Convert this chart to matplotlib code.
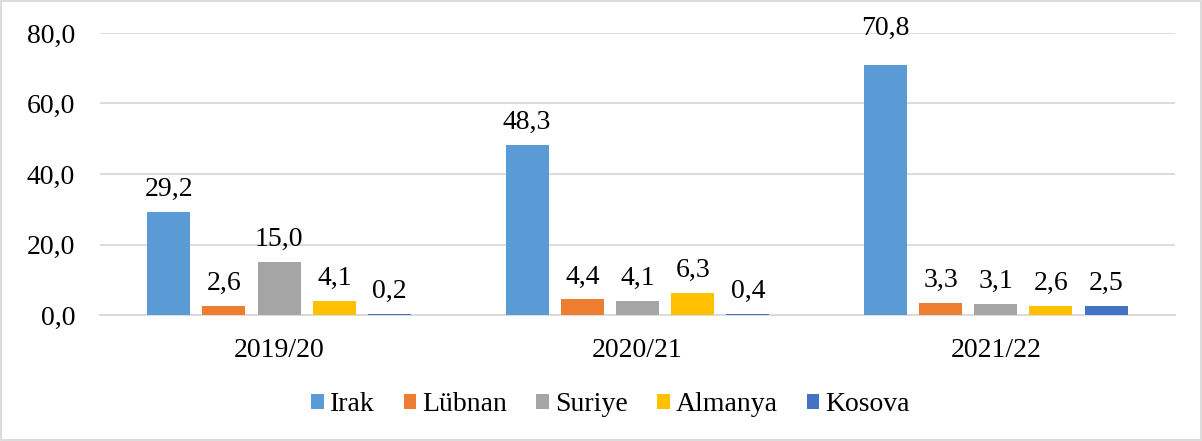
import numpy as np
import matplotlib
matplotlib.use("Agg")
import matplotlib.pyplot as plt
from matplotlib.patches import Rectangle

plt.rcParams['font.family'] = ['Liberation Serif', 'DejaVu Serif']

# data
years = ["2019/20", "2020/21", "2021/22"]
series = ["Irak", "Lübnan", "Suriye", "Almanya", "Kosova"]
irak = [29.2, 48.3, 70.8]
lubnan = [2.6, 4.4, 3.3]
suriye = [15.0, 4.1, 3.1]
almanya = [4.1, 6.3, 2.6]
kosova = [0.2, 0.4, 2.5]
colors = ["#5B9BD5", "#ED7D31", "#A5A5A5", "#FFC000", "#4472C4"]

values = [irak, lubnan, suriye, almanya, kosova]
fs = 20
top = max(max(v) for v in values)

fig = plt.figure(figsize=(12.02, 4.41), dpi=100)
ax = fig.add_axes([0.0832, 0.2857, 0.8943, 0.6395])

x = np.arange(len(years))
step = 0.154
width = 0.12
for i, (name, vals, c) in enumerate(zip(series, values, colors)):
    pos = x + (i - 2) * step
    ax.bar(pos, vals, width, color=c, label=name, zorder=3)
    for p, v in zip(pos, vals):
        off = 22 if v == top else 11.5  # excel pushes the tallest label up
        ax.annotate(f"{v:.1f}".replace(".", ","), (p, v), xytext=(0, off),
                    textcoords="offset points", ha="center", va="baseline",
                    fontsize=fs, color="#000000", annotation_clip=False)

ax.set_xlim(-0.5, 2.5)
ax.set_ylim(0, 80)
ax.set_yticks([0, 20, 40, 60, 80])
ax.set_yticklabels([f"{t:.1f}".replace(".", ",") for t in [0, 20, 40, 60, 80]])
ax.set_xticks(x)
ax.set_xticklabels(years)
ax.tick_params(axis="both", length=0, labelsize=fs)
ax.tick_params(axis="y", pad=18)
ax.tick_params(axis="x", pad=16.5)
ax.grid(axis="y", color="#D9D9D9", linewidth=1.3, zorder=0)
for s in ["top", "right", "left"]:
    ax.spines[s].set_visible(False)
ax.spines["bottom"].set_color("#D9D9D9")
ax.spines["bottom"].set_linewidth(1.3)

fig.legend(loc="center", bbox_to_anchor=(0.508, 0.082), ncol=5, frameon=False,
           fontsize=fs, handlelength=0.45, handleheight=0.45, handletextpad=0.22,
           columnspacing=1.05)

fig.patches.append(Rectangle((0.001, 0.002), 0.998, 0.996, transform=fig.transFigure,
                             fill=False, edgecolor="#D9D9D9", linewidth=1.3))

plt.savefig("out.png", dpi=100)
